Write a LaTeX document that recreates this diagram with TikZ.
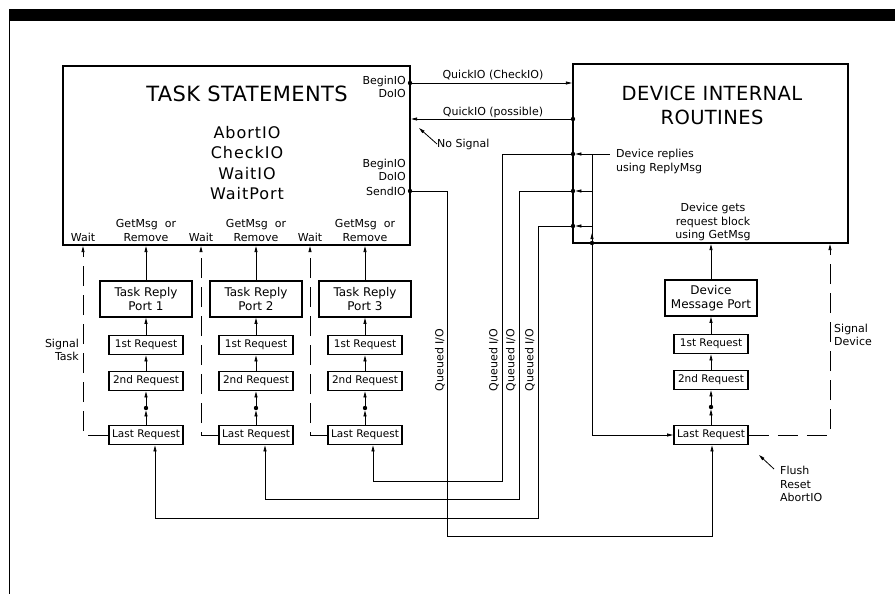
\documentclass[tikz,border=0pt]{standalone}
\usepackage{fontspec}
\setmainfont{DejaVu Sans}
\usetikzlibrary{arrows.meta,calc}
\begin{document}
\begin{tikzpicture}[x=1pt,y=-1pt,
  bigbox/.style={draw, line width=2.2pt, inner sep=0pt},
  portbox/.style={draw, line width=1.8pt, minimum width=92pt, minimum height=36pt, inner sep=0pt, align=center, font=\fontsize{12}{14}\selectfont},
  reqbox/.style={draw, line width=1.8pt, minimum width=74pt, minimum height=19pt, inner sep=0pt, font=\fontsize{10.5}{12}\selectfont},
  conn/.style={line width=0.8pt},
  arr/.style={conn, -{Triangle[length=6pt,width=3pt]}},
  rarr/.style={conn, {Triangle[length=6pt,width=3pt]}-},
  sig/.style={line width=0.8pt, dash pattern=on 20pt off 9pt},
  lbl/.style={font=\fontsize{11}{13.5}\selectfont, inner sep=0pt},
  dot/.style={circle, fill, inner sep=0pt, minimum size=4.4pt},
]
\useasboundingbox (0,0) rectangle (895,594);
\fill[white] (0,0) rectangle (895,594);
% page frame
\fill[black] (9,9) rectangle (895,21);
\draw[line width=1.2pt] (9.5,21) -- (9.5,594);

% main boxes
\node[bigbox, minimum width=347pt, minimum height=179pt] (task) at (236.5,155.5) {};
\node[bigbox, minimum width=275pt, minimum height=179pt] (dev) at (710.5,153.5) {};

\node[font=\fontsize{21}{25}\selectfont\addfontfeatures{LetterSpace=2}] (tasktitle) at (247,94) {TASK STATEMENTS};
\node[font=\fontsize{16}{20.3}\selectfont\addfontfeatures{LetterSpace=6}, align=center, inner sep=0pt] (cmds) at (247,163) {AbortIO\\CheckIO\\WaitIO\\WaitPort};

\node[lbl, anchor=east, align=right] (bio1) at (406,87) {BeginIO\\DoIO};
\node[lbl, anchor=east, align=right] (bio2) at (406,170) {BeginIO\\DoIO};
\node[lbl, anchor=east] (sendlbl) at (406,191) {SendIO};

\node[lbl] (wait1) at (83,237) {Wait};
\node[lbl] (wait2) at (201,237) {Wait};
\node[lbl] (wait3) at (310,237) {Wait};
\node[lbl, align=center] (gm1) at (146,230.5) {GetMsg\ \ or\\Remove};
\node[lbl, align=center] (gm2) at (256,230.5) {GetMsg\ \ or\\Remove};
\node[lbl, align=center] (gm3) at (365,230.5) {GetMsg\ \ or\\Remove};

\node[font=\fontsize{19.5}{24}\selectfont\addfontfeatures{LetterSpace=2}, align=center, inner sep=0pt] (devtitle) at (712,105) {DEVICE INTERNAL\\ROUTINES};
\node[lbl, anchor=west, align=left] (devrep) at (616,161.5) {Device replies\\using ReplyMsg};
\node[lbl, align=center] (devget) at (713,222) {Device gets\\request block\\using GetMsg};

% task stacks
\foreach \i/\x in {1/146,2/256,3/365} {
  \node[portbox] (port\i) at (\x,299) {Task Reply\\Port \i};
  \node[reqbox] (ra\i) at (\x,345) {1st Request};
  \node[reqbox] (rb\i) at (\x,381) {2nd Request};
  \node[dot] (dd\i) at (\x,408) {};
  \node[reqbox] (rl\i) at (\x,435) {Last Request};
  \draw[arr] (port\i.north) -- (port\i.north |- task.south);
  \draw[arr] (ra\i) -- (port\i);
  \draw[arr] (rb\i) -- (ra\i);
  \draw[arr] (dd\i) -- (rb\i);
  \draw[arr] (rl\i) -- (dd\i);
}
\foreach \i/\x in {1/83,2/201,3/310} {
  \draw[sig, arr] (rl\i.west) -- (\x,435) -- (\x,0 |- task.south);
}
\node[lbl, anchor=east, align=right] (sigtask) at (79,350) {Signal\\Task};

% device stack
\node[portbox] (dport) at (711,298) {Device\\Message Port};
\node[reqbox] (dra) at (711,344) {1st Request};
\node[reqbox] (drb) at (711,380) {2nd Request};
\node[dot] (ddd) at (711,407) {};
\node[reqbox] (drl) at (711,435) {Last Request};
\draw[arr] (dport.north) -- (dport.north |- dev.south);
\draw[arr] (dra) -- (dport);
\draw[arr] (drb) -- (dra);
\draw[arr] (ddd) -- (drb);
\draw[arr] (drl) -- (ddd);
\draw[sig, arr] (drl.east) -- (830,435) -- (830,0 |- dev.south);
\node[lbl, anchor=west, align=left] (sigdev) at (834,335) {Signal\\Device};

% dots on box edges
\node[dot] (dbeg) at (410,83) {};
\node[dot] (dposs) at (573,119) {};
\node[dot] (dsend) at (410,191) {};
\node[dot] (drep1) at (573,154) {};
\node[dot] (drep2) at (573,191) {};
\node[dot] (drep3) at (573,226) {};
\node[dot] (dbot) at (592,243) {};

% quick IO
\draw[arr] (dbeg.center) -- (dbeg.center -| dev.west);
\node[lbl, anchor=base] (qcheck) at (493,79) {QuickIO (CheckIO)};
\draw[arr] (dposs.center) -- (dposs.center -| task.east);
\node[lbl, anchor=base] (qposs) at (493,116) {QuickIO (possible)};
\node[lbl, anchor=west] (nosig) at (437,144) {No Signal};
\coordinate (nosigtip) at (419,128);
\draw[arr] (nosig.west) -- (nosigtip);

% queued I/O lines
\draw[arr] (dsend.center) -- (447,191) -- (447,536) -- (712,536) -- (712,0 |- drl.south);
\draw[arr] (drep1.center) -- (502,154) -- (502,481) -- (373,481) -- (373,0 |- rl3.south);
\draw[arr] (drep2.center) -- (519,191) -- (519,499) -- (265,499) -- (265,0 |- rl2.south);
\draw[arr] (drep3.center) -- (538,226) -- (538,518) -- (155,518) -- (155,0 |- rl1.south);
\node[lbl, rotate=90] (qio0) at (440,360) {Queued I/O};
\node[lbl, rotate=90] (qio1) at (494,360) {Queued I/O};
\node[lbl, rotate=90] (qio2) at (511,360) {Queued I/O};
\node[lbl, rotate=90] (qio3) at (530,360) {Queued I/O};

% device reply bus
\coordinate (bus) at (592,154);
\draw[arr] (bus) -- (592,435) -- (drl.west);
\draw[arr] (bus) -- (drep1);
\draw[arr] (592,191) -- (drep2);
\draw[arr] (592,226) -- (drep3);
\draw[conn] (bus) -- (610,154);
\draw[arr] (dbot.center) -- (592,233);

% flush
\node[lbl, anchor=north west, align=left] (flush) at (780,466) {Flush\\Reset\\AbortIO};
\coordinate (flushtip) at (759,455);
\draw[arr] (774,469) -- (flushtip);
\end{tikzpicture}
\end{document}
